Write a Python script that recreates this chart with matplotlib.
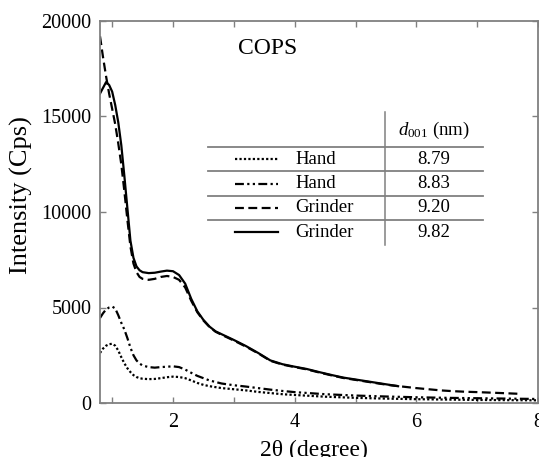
import matplotlib
matplotlib.use("Agg")
import matplotlib.pyplot as plt
import numpy as np

plt.rcParams["font.family"] = ["Liberation Serif", "DejaVu Serif"]
plt.rcParams["mathtext.fontset"] = "custom"
plt.rcParams["mathtext.rm"] = "Liberation Serif"
plt.rcParams["mathtext.it"] = "Liberation Serif:italic"

# XRD traces, 2theta (degree) vs intensity (Cps)
grinder_982_x = [0.80, 0.85, 0.90, 0.95, 1.00, 1.05, 1.10, 1.15, 1.20, 1.25,
                 1.30, 1.35, 1.40, 1.45, 1.50, 1.60, 1.70, 1.80, 1.90, 2.00,
                 2.10, 2.20, 2.30, 2.40, 2.50, 2.60, 2.70, 2.80, 2.90, 3.00,
                 3.20, 3.40, 3.60, 3.80, 4.00, 4.20, 4.40, 4.60, 4.80, 5.00,
                 5.20, 5.40, 5.60, 5.70]
grinder_982_y = [16200, 16500, 16800, 16650, 16300, 15600, 14700, 13500, 11900, 10200,
                 8500, 7600, 7150, 6950, 6850, 6800, 6820, 6880, 6930, 6900,
                 6700, 6250, 5450, 4800, 4350, 4000, 3750, 3600, 3450, 3300,
                 2980, 2620, 2230, 2030, 1900, 1780, 1620, 1470, 1330, 1230,
                 1130, 1030, 930, 880]

grinder_920_x = [0.80, 0.85, 0.90, 0.95, 1.00, 1.05, 1.10, 1.15, 1.20, 1.25,
                 1.30, 1.35, 1.40, 1.45, 1.50, 1.60, 1.70, 1.80, 1.90, 2.00,
                 2.10, 2.20, 2.30, 2.40, 2.50, 2.60, 2.70, 2.80, 2.90, 3.00,
                 3.20, 3.40, 3.60, 3.80, 4.00, 4.20, 4.40, 4.60, 4.80, 5.00,
                 5.20, 5.40, 5.60, 5.80, 6.00, 6.20, 6.40, 6.60, 6.80, 7.00,
                 7.20, 7.40, 7.70]
grinder_920_y = [19200, 18100, 17100, 16200, 15400, 14600, 13600, 12500, 11100, 9600,
                 8200, 7300, 6850, 6600, 6500, 6450, 6500, 6600, 6650, 6600,
                 6450, 6050, 5350, 4750, 4320, 3980, 3730, 3570, 3420, 3270,
                 2950, 2600, 2210, 2010, 1880, 1760, 1600, 1450, 1310, 1210,
                 1110, 1010, 920, 850, 780, 720, 660, 620, 590, 570,
                 545, 520, 480]

hand_883_x = [0.80, 0.85, 0.90, 0.95, 1.00, 1.05, 1.10, 1.15, 1.20, 1.25,
              1.30, 1.35, 1.40, 1.45, 1.50, 1.60, 1.70, 1.80, 1.90, 2.00,
              2.10, 2.20, 2.30, 2.40, 2.50, 2.60, 2.80, 3.00, 3.20, 3.40,
              3.60, 3.80, 4.00, 4.50, 5.00, 5.50, 6.00, 6.50, 7.00, 7.50, 8.00]
hand_883_y = [4450, 4700, 4900, 5000, 5050, 4950, 4600, 4200, 3850, 3400,
              2900, 2500, 2230, 2070, 1960, 1880, 1850, 1880, 1900, 1920,
              1880, 1750, 1580, 1420, 1300, 1180, 1020, 930, 860, 780,
              700, 630, 570, 460, 390, 340, 300, 270, 250, 230, 210]

hand_879_x = [0.80, 0.85, 0.90, 0.95, 1.00, 1.05, 1.10, 1.15, 1.20, 1.25,
              1.30, 1.35, 1.40, 1.45, 1.50, 1.60, 1.70, 1.80, 1.90, 2.00,
              2.10, 2.20, 2.30, 2.40, 2.50, 2.60, 2.80, 3.00, 3.20, 3.40,
              3.60, 3.80, 4.00, 4.50, 5.00, 5.50, 6.00, 6.50, 7.00, 7.50, 8.00]
hand_879_y = [2620, 2850, 3000, 3080, 3100, 3000, 2750, 2400, 2080, 1820,
              1620, 1460, 1360, 1300, 1270, 1250, 1260, 1300, 1350, 1380,
              1360, 1300, 1180, 1050, 950, 880, 780, 720, 660, 580,
              520, 460, 420, 330, 270, 230, 200, 180, 160, 150, 140]

methods = ["Hand", "Hand", "Grinder", "Grinder"]
d001_nm = ["8.79", "8.83", "9.20", "9.82"]

styles = [
    dict(linestyle=(0, (1, 1))),
    dict(linestyle=(0, (4, 1.5, 1, 1.5, 1, 1.5))),
    dict(linestyle=(0, (4, 2))),
    dict(linestyle="-"),
]
series = [(hand_879_x, hand_879_y), (hand_883_x, hand_883_y),
          (grinder_920_x, grinder_920_y), (grinder_982_x, grinder_982_y)]

fig = plt.figure(figsize=(5.39, 4.57), dpi=100)
ax = fig.add_axes([100 / 539, 1 - 403 / 457, 438 / 539, 382 / 457])

for (xs, ys), st in zip(series, styles):
    ax.plot(xs, ys, color="black", linewidth=1.6, **st)

ax.set_xlim(0.8, 8)
ax.set_ylim(0, 20000)
ax.set_xticks(range(1, 9))
ax.set_xticklabels(["" if t % 2 else str(t) for t in range(1, 9)])
ax.set_yticks(range(0, 20001, 5000))

ax.tick_params(direction="in", top=True, right=True, length=4, width=1,
               color="#808080", labelsize=14.5)
ax.tick_params(axis="y", pad=6)
ax.tick_params(axis="x", pad=7)
for sp in ax.spines.values():
    sp.set_color("#808080")
    sp.set_linewidth(1.3)

ax.set_xlabel("2θ (degree)", fontsize=17)
ax.xaxis.set_label_coords(0.489, -0.097)
ax.set_ylabel("Intensity (Cps)", fontsize=19)
ax.yaxis.set_label_coords(-0.153, 0.545)

ax.text(0.315, 0.929, "COPS", transform=ax.transAxes, fontsize=17,
        ha="left", va="center")

# d001 table with line-style key
tr = ax.transAxes
gray = "#808080"
for yy in [0.671, 0.6073, 0.5419, 0.479]:
    ax.plot([0.2466, 0.8744], [yy, yy], transform=tr, color=gray,
            linewidth=1.3, clip_on=False)
ax.plot([0.6507, 0.6507], [0.4136, 0.7618], transform=tr, color=gray,
        linewidth=1.1, clip_on=False)
ax.text(0.7626, 0.7147, r"$\mathit{d}_{\mathit{001}}$ (nm)", transform=tr,
        fontsize=13.5, ha="center", va="center")
row_y = [0.6387, 0.5733, 0.5105, 0.4476]
for yy, m, d, st in zip(row_y, methods, d001_nm, styles):
    ax.plot([0.3082, 0.4064], [yy, yy], transform=tr, color="black",
            linewidth=1.6, **st)
    ax.text(0.4452, yy, m, transform=tr, fontsize=13.5, ha="left", va="center")
    ax.text(0.7626, yy, d, transform=tr, fontsize=13.5, ha="center", va="center")

fig.savefig("out.png", dpi=100)
